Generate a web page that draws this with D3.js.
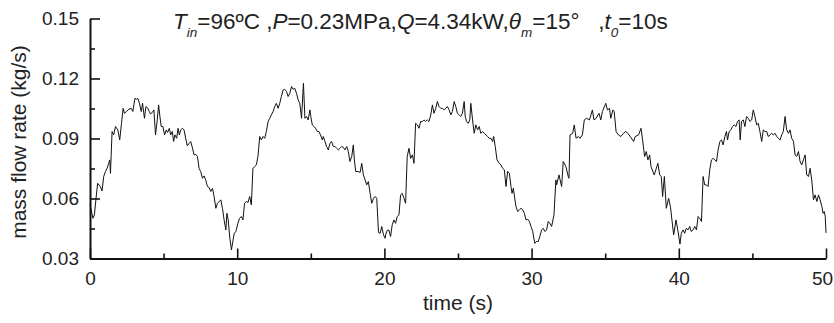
<!DOCTYPE html>
<html>
<head>
<meta charset="utf-8">
<script src="https://cdn.jsdelivr.net/npm/d3@7"></script>
<style>
  body { margin: 0; background: #fff; }
  svg { display: block; font-family: Arial, "Liberation Sans", sans-serif; }
</style>
</head>
<body>
<svg id="chart" width="834" height="323"></svg>
<script>
'use strict';

// time (s)
var timeS = [
  0, 0.2, 0.3, 0.41, 0.52, 0.7, 0.82, 0.93, 1.05, 1.16, 1.27, 1.34, 1.39, 1.5, 1.61, 1.73, 1.89, 2.02, 2.14, 2.25,
  2.34, 2.48, 2.64, 2.8, 2.91, 3.05, 3.16, 3.25, 3.36, 3.48, 3.57, 3.7, 3.8, 3.93, 4.02, 4.11, 4.23, 4.34, 4.45, 4.57,
  4.66, 4.75, 4.84, 4.95, 5.07, 5.18, 5.27, 5.39, 5.48, 5.59, 5.68, 5.77, 5.89, 5.98, 6.07, 6.16, 6.27, 6.39, 6.5, 6.61,
  6.73, 6.84, 6.95, 7.07, 7.18, 7.3, 7.41, 7.52, 7.64, 7.75, 7.86, 7.98, 8.09, 8.2, 8.32, 8.43, 8.55, 8.66, 8.77, 8.89,
  9.0, 9.11, 9.23, 9.3, 9.39, 9.5, 9.61, 9.7, 9.8, 9.91,
  10.05, 10.16, 10.28, 10.39, 10.5, 10.62, 10.73, 10.85, 10.96, 11.07, 11.19, 11.3, 11.41, 11.53, 11.64, 11.76, 11.87, 11.98, 12.1, 12.21,
  12.32, 12.44, 12.55, 12.66, 12.78, 12.89, 13.0, 13.12, 13.23, 13.35, 13.46, 13.57, 13.69, 13.8, 13.91, 14.03, 14.14, 14.25, 14.37, 14.5,
  14.6, 14.71, 14.82, 14.94, 15.0, 15.1, 15.21, 15.32, 15.44, 15.55, 15.66, 15.78, 15.85, 15.96, 16.07, 16.19, 16.3, 16.41, 16.53, 16.64,
  16.76, 16.87, 16.98, 17.1, 17.21, 17.32, 17.44, 17.55, 17.66, 17.78, 17.89, 17.96, 18.05, 18.23, 18.35, 18.46, 18.57, 18.69, 18.8, 18.91,
  19.03, 19.14, 19.26, 19.37, 19.48, 19.6, 19.71, 19.82, 19.94, 20.05,
  20.08, 20.19, 20.3, 20.42, 20.53, 20.65, 20.76, 20.87, 20.99, 21.1, 21.21, 21.33, 21.44, 21.55, 21.67, 21.78, 21.9, 22.01, 22.12, 22.24,
  22.35, 22.46, 22.58, 22.69, 22.8, 22.92, 23.03, 23.15, 23.26, 23.37, 23.49, 23.6, 23.71, 23.83, 23.94, 24.05, 24.17, 24.28, 24.4, 24.51,
  24.62, 24.74, 24.85, 24.96, 25.08, 25.19, 25.3, 25.42, 25.49, 25.58, 25.69, 25.8, 25.87, 25.99, 26.1, 26.21, 26.33, 26.44, 26.55, 26.67,
  26.78, 26.9, 27.01, 27.12, 27.24, 27.35, 27.42, 27.53, 27.65, 27.8, 27.92, 28.03, 28.15, 28.26, 28.37, 28.49, 28.6, 28.67, 28.76, 28.87,
  28.94, 29.05, 29.17, 29.28, 29.4, 29.51, 29.62, 29.74, 29.85, 29.96, 30.08,
  30.11, 30.22, 30.33, 30.45, 30.56, 30.68, 30.79, 30.9, 31.02, 31.13, 31.24, 31.36, 31.52, 31.65, 31.7, 31.86, 32.04, 32.15, 32.33, 32.49,
  32.54, 32.61, 32.79, 32.9, 33.02, 33.18, 33.29, 33.45, 33.58, 33.74, 33.93, 34.13, 34.24, 34.38, 34.58, 34.7, 34.81, 35.04, 35.15, 35.29,
  35.38, 35.52, 35.61, 35.74, 35.9, 36.06, 36.24, 36.4, 36.54, 36.7, 36.93, 37.04, 37.27, 37.43, 37.54, 37.68, 37.79, 37.9, 38.02, 38.11,
  38.33, 38.58, 38.7, 38.81, 38.9, 39.02, 39.15, 39.31, 39.43, 39.65, 39.81, 39.93, 40.08,
  40.17, 40.29, 40.4, 40.51, 40.63, 40.74, 40.85, 40.97, 41.08, 41.2, 41.31, 41.42, 41.54, 41.65, 41.76, 41.88, 41.99, 42.1, 42.22, 42.33,
  42.45, 42.56, 42.67, 42.79, 42.9, 43.01, 43.13, 43.24, 43.31, 43.42, 43.54, 43.65, 43.76, 43.88, 43.99, 44.1, 44.17, 44.26, 44.38, 44.49,
  44.6, 44.72, 44.83, 44.95, 45.06, 45.17, 45.29, 45.4, 45.51, 45.63, 45.74, 45.85, 45.97, 46.08, 46.2, 46.31, 46.42, 46.54, 46.65, 46.76,
  46.88, 46.99, 47.1, 47.22, 47.33, 47.45, 47.56, 47.67, 47.79, 47.9, 48.01, 48.13, 48.24, 48.35, 48.47, 48.58, 48.69, 48.81, 48.92, 49.03,
  49.15, 49.26, 49.38, 49.49, 49.6, 49.72, 49.8, 49.88, 49.95, 50
];

// mass flow rate (kg/s)
var massFlow = [
  0.057, 0.0501, 0.0518, 0.0601, 0.0676, 0.066, 0.0638, 0.071, 0.0735, 0.0751, 0.0776, 0.0793, 0.0726, 0.0935, 0.0918, 0.096, 0.0943, 0.0893, 0.0976, 0.1051,
  0.1026, 0.1035, 0.1046, 0.1051, 0.1035, 0.1101, 0.1096, 0.1101, 0.1076, 0.1035, 0.1076, 0.1001, 0.106, 0.1051, 0.1035, 0.1023, 0.103, 0.1043, 0.0918, 0.0993,
  0.1068, 0.101, 0.096, 0.096, 0.0918, 0.0943, 0.093, 0.0951, 0.0918, 0.0935, 0.0885, 0.0918, 0.0901, 0.0951, 0.0918, 0.0943, 0.0951, 0.0943, 0.0901, 0.0863,
  0.0876, 0.0885, 0.0856, 0.0818, 0.0821, 0.081, 0.0751, 0.0735, 0.0701, 0.0713, 0.0693, 0.066, 0.0655, 0.0635, 0.0651, 0.061, 0.0551, 0.0576, 0.0585, 0.0593,
  0.0551, 0.0493, 0.0443, 0.0526, 0.0493, 0.0401, 0.0343, 0.0385, 0.0426, 0.0435,
  0.0476, 0.0501, 0.051, 0.0493, 0.0576, 0.0585, 0.058, 0.061, 0.0568, 0.0751, 0.076, 0.0768, 0.081, 0.091, 0.0893, 0.091, 0.0901, 0.0935, 0.0985, 0.1001,
  0.1018, 0.1035, 0.106, 0.1076, 0.1051, 0.1076, 0.111, 0.1143, 0.1146, 0.1135, 0.111, 0.1126, 0.116, 0.1146, 0.1151, 0.1126, 0.1093, 0.1076, 0.1001, 0.1176,
  0.1001, 0.101, 0.0993, 0.1043, 0.101, 0.0968, 0.096, 0.0951, 0.0935, 0.0935, 0.0918, 0.0893, 0.091, 0.0885, 0.086, 0.0843, 0.0876, 0.0885, 0.086, 0.086,
  0.0851, 0.0843, 0.0851, 0.086, 0.0856, 0.0843, 0.086, 0.0835, 0.0785, 0.081, 0.0868, 0.0793, 0.0735, 0.0735, 0.073, 0.0776, 0.0718, 0.0693, 0.0668, 0.0685,
  0.0626, 0.0576, 0.0601, 0.061, 0.0601, 0.043, 0.0426, 0.046, 0.0418, 0.0401,
  0.0418, 0.044, 0.0443, 0.041, 0.0468, 0.0493, 0.0476, 0.051, 0.0518, 0.0618, 0.0626, 0.0601, 0.0576, 0.081, 0.0851, 0.0801, 0.0818, 0.0776, 0.0976, 0.0968,
  0.0951, 0.0985, 0.0985, 0.0993, 0.0985, 0.0993, 0.0985, 0.1018, 0.1068, 0.1026, 0.1051, 0.1085, 0.106, 0.1051, 0.1051, 0.1043, 0.1051, 0.106, 0.1043, 0.1018,
  0.1035, 0.1085, 0.106, 0.1026, 0.1018, 0.101, 0.1026, 0.1085, 0.101, 0.0985, 0.0976, 0.0993, 0.1076, 0.0993, 0.0926, 0.0968, 0.0943, 0.096, 0.0926, 0.0935,
  0.0926, 0.0918, 0.091, 0.0901, 0.0901, 0.0885, 0.091, 0.086, 0.0793, 0.0776, 0.0768, 0.0751, 0.0743, 0.066, 0.0735, 0.0726, 0.066, 0.0626, 0.0651, 0.0593,
  0.056, 0.0535, 0.0543, 0.0551, 0.0543, 0.0526, 0.0493, 0.0496, 0.0485, 0.046, 0.0435,
  0.0418, 0.0376, 0.0385, 0.0385, 0.041, 0.0443, 0.0451, 0.0435, 0.0443, 0.0485, 0.0476, 0.046, 0.0518, 0.0693, 0.0668, 0.0718, 0.066, 0.0785, 0.076, 0.071,
  0.0701, 0.0918, 0.0926, 0.0968, 0.0901, 0.091, 0.0901, 0.0918, 0.0993, 0.1001, 0.0993, 0.1043, 0.0993, 0.1001, 0.1026, 0.0993, 0.1035, 0.1076, 0.1043, 0.1051,
  0.1001, 0.1043, 0.1035, 0.0935, 0.0918, 0.091, 0.0926, 0.0935, 0.0926, 0.091, 0.0885, 0.091, 0.0918, 0.0951, 0.0893, 0.081, 0.0835, 0.0793, 0.0818, 0.076,
  0.0718, 0.0776, 0.0718, 0.071, 0.061, 0.071, 0.0551, 0.0601, 0.056, 0.0418, 0.0493, 0.0443, 0.0372,
  0.0426, 0.0443, 0.0426, 0.0451, 0.0443, 0.046, 0.0435, 0.0443, 0.046, 0.0443, 0.051, 0.0501, 0.0485, 0.071, 0.0668, 0.0668, 0.066, 0.0743, 0.0793, 0.0801,
  0.0793, 0.0785, 0.0843, 0.0885, 0.0893, 0.0868, 0.091, 0.0935, 0.0893, 0.0935, 0.0943, 0.096, 0.0968, 0.096, 0.0985, 0.0993, 0.0893, 0.0985, 0.0993, 0.096,
  0.101, 0.1001, 0.0985, 0.0993, 0.1043, 0.101, 0.0968, 0.0976, 0.0935, 0.0885, 0.0943, 0.0935, 0.0935, 0.091, 0.0918, 0.0926, 0.0918, 0.0926, 0.091, 0.0901,
  0.0893, 0.0918, 0.0935, 0.101, 0.0943, 0.0926, 0.0943, 0.0901, 0.0885, 0.0818, 0.081, 0.0835, 0.0785, 0.0768, 0.0793, 0.0818, 0.0718, 0.071, 0.0751, 0.0693,
  0.0593, 0.0618, 0.0585, 0.0618, 0.0593, 0.056, 0.0526, 0.0535, 0.051, 0.0428
];

var xMajorTicks = [0, 10, 20, 30, 40, 50];
var xMinorTicks = [5, 15, 25, 35, 45];
var yMajorTicks = [0.03, 0.06, 0.09, 0.12, 0.15];
var yMinorTicks = [0.045, 0.075, 0.105, 0.135];

var svg = d3.select('#chart');

var x = d3.scaleLinear().domain([0, 50]).range([90, 826]);
var y = d3.scaleLinear().domain([0.03, 0.15]).range([258.5, 18.5]);

var points = timeS.map(function(t, i){ return [t, massFlow[i]]; });

// minor ticks first so the major axes sit on top
svg.append('g')
  .attr('transform', 'translate(0,' + y(0.03) + ')')
  .call(d3.axisBottom(x).tickValues(xMinorTicks).tickSize(-5).tickFormat(''))
  .call(function(g){ g.select('.domain').remove(); });

svg.append('g')
  .attr('transform', 'translate(' + x(0) + ',0)')
  .call(d3.axisLeft(y).tickValues(yMinorTicks).tickSize(-5).tickFormat(''))
  .call(function(g){ g.select('.domain').remove(); });

svg.append('g')
  .attr('class', 'x axis')
  .attr('transform', 'translate(0,' + y(0.03) + ')')
  .call(d3.axisBottom(x).tickValues(xMajorTicks).tickSizeInner(-10).tickSizeOuter(0).tickPadding(13));

svg.append('g')
  .attr('class', 'y axis')
  .attr('transform', 'translate(' + x(0) + ',0)')
  .call(d3.axisLeft(y).tickValues(yMajorTicks).tickSizeInner(-10).tickSizeOuter(0).tickPadding(11)
    .tickFormat(d3.format('.2f')));

svg.selectAll('.tick line').attr('stroke', '#111').attr('stroke-width', 1.6);
svg.selectAll('.domain').attr('stroke', '#111').attr('stroke-width', 2);
svg.selectAll('.tick text')
  .attr('fill', '#222')
  .style('font-size', '19px')
  .style('font-family', 'Arial, "Liberation Sans", sans-serif');

// the last x label sits at the right edge, nudge it in
svg.selectAll('.x.axis .tick text').filter(function(d){ return d === 50; }).attr('dx', -4);

svg.append('path')
  .datum(points)
  .attr('fill', 'none')
  .attr('stroke', '#111')
  .attr('stroke-width', 1)
  .attr('stroke-linejoin', 'round')
  .attr('d', d3.line()
    .x(function(d){ return x(d[0]); })
    .y(function(d){ return y(d[1]); }));

// axis titles
svg.append('text')
  .attr('x', 458)
  .attr('y', 310)
  .attr('text-anchor', 'middle')
  .style('font-size', '21px')
  .attr('fill', '#222')
  .text('time (s)');

svg.append('text')
  .attr('transform', 'translate(26,142) rotate(-90)')
  .attr('text-anchor', 'middle')
  .style('font-size', '21px')
  .attr('fill', '#222')
  .text('mass flow rate (kg/s)');

// run conditions, with italic symbols and subscripts
var title = svg.append('text')
  .attr('x', 173)
  .attr('y', 28.5)
  .style('font-size', '22.5px')
  .attr('fill', '#222');

var parts = [
  {t: 'T', it: true},
  {t: 'in', it: true, sub: true},
  {t: '=96\u00baC ,'},
  {t: 'P', it: true},
  {t: '=0.23MPa,'},
  {t: 'Q', it: true},
  {t: '=4.34kW,'},
  {t: '\u03b8', it: true},
  {t: 'm', it: true, sub: true},
  {t: '=15\u00b0\u00a0\u00a0\u00a0,'},
  {t: 't', it: true},
  {t: '0', it: true, sub: true},
  {t: '=10s'}
];

var lowered = false;
parts.forEach(function(p){
  var span = title.append('tspan').text(p.t);
  if(p.it) span.style('font-style', 'italic');
  if(p.sub){
    span.style('font-size', '13.5px').attr('dy', lowered ? 0 : 8);
    lowered = true;
  } else if(lowered){
    span.attr('dy', -8);
    lowered = false;
  }
});
</script>
</body>
</html>
